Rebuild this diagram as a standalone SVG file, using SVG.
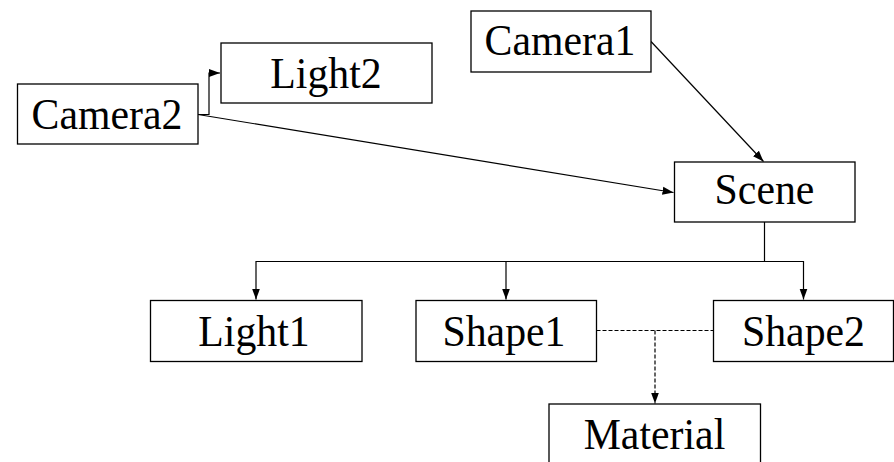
<svg xmlns="http://www.w3.org/2000/svg" width="894" height="462" viewBox="0 0 894 462">
  <style>
    .box { fill: #fff; stroke: #000; stroke-width: 1.3; }
    .lbl { font-family: "Liberation Serif", "Times New Roman", serif; font-size: 44px; fill: #000; text-anchor: middle; }
    .wire { fill: none; stroke: #000; stroke-width: 1.2; }
    .dash { fill: none; stroke: #000; stroke-width: 1.2; stroke-dasharray: 4 2; }
  </style>
  <defs>
    <marker id="arrow" markerUnits="userSpaceOnUse" markerWidth="12" markerHeight="10" refX="11" refY="5" orient="auto">
      <path d="M0,1 L11,5 L0,9 Z" fill="#000"/>
    </marker>
  </defs>
  <rect width="894" height="462" fill="#fff"/>

  <g id="connectors">
    <path class="wire" d="M198,114.5 H209 V73 H220" marker-end="url(#arrow)"/>
    <path class="wire" d="M198,114.5 L673.5,192.5" marker-end="url(#arrow)"/>
    <path class="wire" d="M651,41.5 L763.5,161.5" marker-end="url(#arrow)"/>
    <path class="wire" d="M764.5,222 V261.5 H256 V299.5" marker-end="url(#arrow)"/>
    <path class="wire" d="M506,261.5 V299.5" marker-end="url(#arrow)"/>
    <path class="wire" d="M764.5,261.5 H803.5 V299.5" marker-end="url(#arrow)"/>
    <path class="dash" d="M596.5,330.5 H713"/>
    <path class="dash" d="M655,330.5 V403.5" marker-end="url(#arrow)"/>
  </g>

  <!-- labels are set slightly condensed (scale 0.95 horizontally) -->
  <g id="camera1">
    <rect class="box" x="471" y="11" width="180" height="61"/>
    <text class="lbl" transform="translate(560,55) scale(0.95,1)">Camera1</text>
  </g>
  <g id="light2">
    <rect class="box" x="221" y="43" width="211" height="60"/>
    <text class="lbl" transform="translate(326,88) scale(0.95,1)">Light2</text>
  </g>
  <g id="camera2">
    <rect class="box" x="17.5" y="84" width="180.5" height="60"/>
    <text class="lbl" transform="translate(107,129) scale(0.95,1)">Camera2</text>
  </g>
  <g id="scene">
    <rect class="box" x="674.5" y="162" width="180.5" height="60"/>
    <text class="lbl" transform="translate(764.5,204) scale(0.95,1)">Scene</text>
  </g>
  <g id="light1">
    <rect class="box" x="150.5" y="300.5" width="211.5" height="61"/>
    <text class="lbl" transform="translate(254,346) scale(0.95,1)">Light1</text>
  </g>
  <g id="shape1">
    <rect class="box" x="416" y="300.5" width="180.5" height="61"/>
    <text class="lbl" transform="translate(504,346) scale(0.95,1)">Shape1</text>
  </g>
  <g id="shape2">
    <rect class="box" x="713.5" y="300.5" width="180" height="61"/>
    <text class="lbl" transform="translate(803.5,346) scale(0.95,1)">Shape2</text>
  </g>
  <g id="material">
    <rect class="box" x="549" y="404" width="211.5" height="70"/>
    <text class="lbl" transform="translate(654.5,449) scale(0.95,1)">Material</text>
  </g>
</svg>
